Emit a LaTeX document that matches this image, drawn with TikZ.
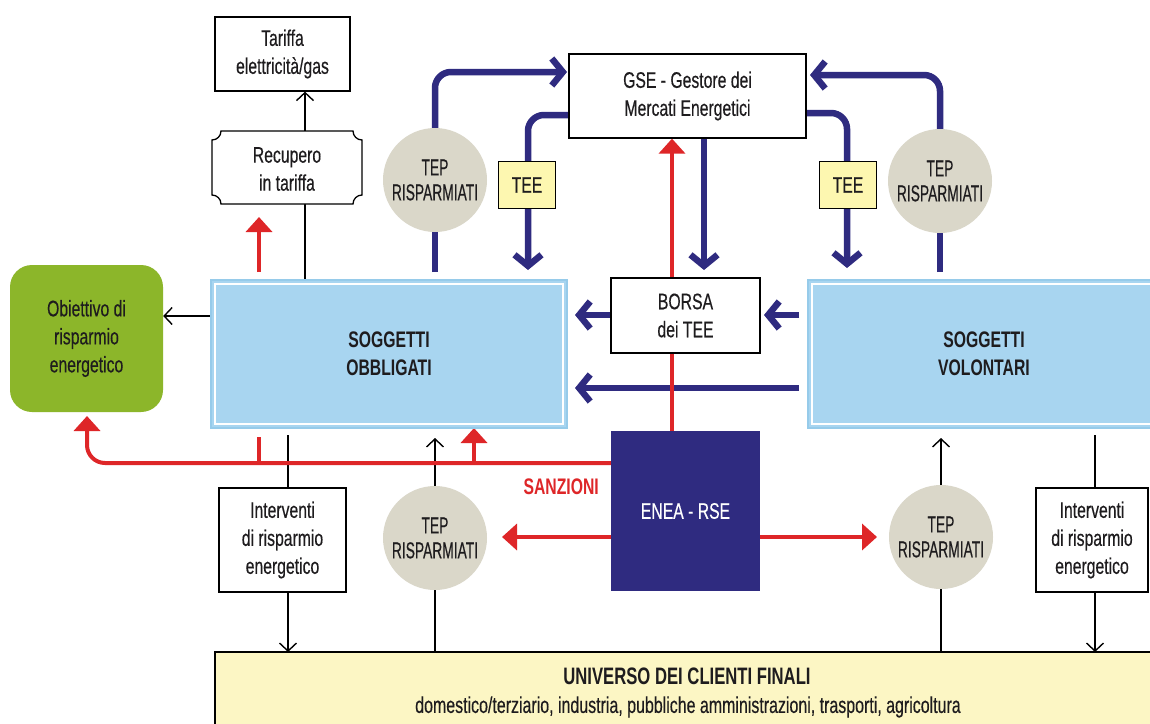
\documentclass[tikz,border=0pt]{standalone}
\usepackage{fontspec}
\setmainfont{Liberation Sans}[FakeStretch=0.70, UprightFeatures={FakeBold=0.35}]
\newfontfamily\tepfont{Liberation Sans}[FakeStretch=0.60, FakeBold=0.35]
\usetikzlibrary{arrows.meta,calc}
\definecolor{navy}{RGB}{47,43,128}
\definecolor{redc}{RGB}{222,38,40}
\definecolor{sky}{RGB}{168,213,240}
\definecolor{skyedge}{RGB}{150,203,234}
\definecolor{olive}{RGB}{140,182,42}
\definecolor{tepgray}{RGB}{218,215,201}
\definecolor{teeyel}{RGB}{253,247,176}
\definecolor{uniyel}{RGB}{252,246,196}
\definecolor{txtcol}{RGB}{30,28,30}
\pgfdeclarelayer{bg}
\pgfdeclarelayer{conn}
\pgfsetlayers{bg,conn,main}
\tikzset{
  txt/.style={font=\fontsize{22.5}{28}\selectfont, text=txtcol, align=center},
  wbox/.style={txt, draw=black, line width=1.3pt, fill=white, inner sep=0pt},
  sogg/.style={fill=sky, draw=skyedge, line width=2pt, inner sep=0pt, align=center,
    text=txtcol, font=\bfseries\fontsize{22.5}{28}\selectfont},
  tep/.style={circle, fill=tepgray, minimum size=104pt, inner sep=0pt, align=center,
    text=txtcol, font=\tepfont\fontsize{23}{25}\selectfont},
  tee/.style={draw=black, line width=1.3pt, fill=teeyel, minimum width=57pt, minimum height=47pt,
    inner sep=0pt, text=txtcol, font=\fontsize{22.5}{25}\selectfont},
  bl/.style={draw=navy, line width=6.5pt, rounded corners=16pt},
  bla/.style={bl, -{Straight Barb[length=11pt, width=27pt]}},
  rd/.style={draw=redc, line width=4pt, rounded corners=18pt},
  rda/.style={rd, -{Triangle[length=15pt, width=26pt]}},
  bk/.style={draw=black, line width=1.4pt},
  bka/.style={bk, -{Straight Barb[length=8pt, width=17pt]}}
}
\begin{document}
\begin{tikzpicture}[x=1pt,y=-1pt]
\useasboundingbox (0,0) rectangle (1150,723);
\clip (0,0) rectangle (1150,723);
\begin{pgfonlayer}{bg}
\fill[white] (0,0) rectangle (1150,723);
\end{pgfonlayer}

% ---------- nodes ----------
\node[wbox, minimum width=135pt, minimum height=74pt] (tar) at (282.5,54) {Tariffa\\elettricità/gas};
\node[txt, minimum width=150pt, minimum height=73pt, inner sep=0pt] (rec) at (287,167.5) {};
\draw[line width=1.3pt, fill=white] (221,131) -- (353,131) .. controls (353,136) and (357,140) .. (362,140)
  -- (362,195) .. controls (357,195) and (353,199) .. (353,204)
  -- (221,204) .. controls (221,199) and (217,195) .. (212,195)
  -- (212,140) .. controls (217,140) and (221,136) .. (221,131) -- cycle;
\node[txt] (rectext) at (287,169) {Recupero\\in tariffa};

\node[txt, fill=olive, rounded corners=22pt, minimum width=153pt, minimum height=147pt, inner sep=0pt] (obi) at (86.5,338.5) {Obiettivo di\\risparmio\\energetico};

\node[sogg, minimum width=356pt, minimum height=148pt] (obb) at (389,354) {SOGGETTI\\OBBLIGATI};
\draw[white, line width=1.6pt] ($(obb.north west)+(5,5)$) rectangle ($(obb.south east)+(-5,-5)$);
\node[sogg, minimum width=352pt, minimum height=148pt] (vol) at (984,354) {SOGGETTI\\VOLONTARI};
\draw[white, line width=1.6pt] ($(vol.north west)+(5,5)$) rectangle ($(vol.south east)+(-5,-5)$);

\node[wbox, minimum width=237pt, minimum height=84pt] (gse) at (687.5,96) {GSE - Gestore dei\\Mercati Energetici};
\node[wbox, minimum width=149pt, minimum height=75pt] (borsa) at (685.5,315.5) {BORSA\\dei TEE};
\node[fill=navy, minimum width=149pt, minimum height=160pt, inner sep=0pt, text=white,
  font=\fontsize{22.5}{25}\selectfont] (enea) at (685.5,511) {ENEA - RSE};

\node[tep] (tepTL) at (435,180) {TEP\\RISPARMIATI};
\node[tep] (tepTR) at (940,181) {TEP\\RISPARMIATI};
\node[tep] (tepBL) at (435,538) {TEP\\RISPARMIATI};
\node[tep] (tepBR) at (941,537) {TEP\\RISPARMIATI};

\node[tee] (teeL) at (527,185) {TEE};
\node[tee] (teeR) at (848,185) {TEE};

\node[wbox, minimum width=127pt, minimum height=104pt] (intL) at (282.5,540) {Interventi\\di risparmio\\energetico};
\node[wbox, minimum width=112pt, minimum height=104pt] (intR) at (1092,540) {Interventi\\di risparmio\\energetico};

\node[fill=uniyel, anchor=north west, minimum width=945pt, minimum height=90pt, inner sep=0pt] (uni) at (215,652) {};
\draw[line width=1.4pt] (uni.south west) -- (uni.north west) -- (uni.north east);
\node[txt, font=\bfseries\fontsize{23.8}{26}\selectfont] (unit) at (687,676) {UNIVERSO DEI CLIENTI FINALI};
\node[txt, font=\fontsize{22.8}{24}\selectfont] (unis) at (688,707) {domestico/terziario, industria, pubbliche amministrazioni, trasporti, agricoltura};

\node[font=\bfseries\fontsize{22.5}{25}\selectfont, text=redc, anchor=east, inner sep=0pt] (sanz) at (599,487) {SANZIONI};

% ---------- connectors ----------
\begin{pgfonlayer}{conn}
% black
\draw[bka] (rec.north -| 305,0) -- (tar.south -| 305,0);
\draw[bk] (obb.north -| 305,0) -- (rec.south -| 305,0);
\draw[bka] (obb.west |- 0,316) -- (obi.east |- 0,316);
\draw[bk] (288,435) -- (intL.north -| 288,0);
\draw[bka] (intL.south -| 288,0) -- (uni.north -| 288,0);
\draw[bka] (tepBL.north) -- (435,438);
\draw[bk] (tepBL.south) -- (uni.north -| tepBL.south);
\draw[bka] (tepBR.north) -- (941,438);
\draw[bk] (tepBR.south) -- (uni.north -| tepBR.south);
\draw[bk] (1095,435) -- (intR.north -| 1095,0);
\draw[bka] (intR.south -| 1095,0) -- (uni.north -| 1095,0);
% blue
\draw[bl] (435,272) -- (tepTL.south);
\draw[bla] (tepTL.north) -- (435,72) -- (567,72);
\draw[bla] (gse.west |- 0,115) -- (528,115) -- (528,270);
\draw[bla] (gse.south -| 704,0) -- (704,270);
\draw[bla] (tepTR.north) -- (940,75) -- (810,75);
\draw[bl] (940,272) -- (tepTR.south);
\draw[bla] (gse.east |- 0,113) -- (847,113) -- (847,268);
\draw[bla] (borsa.west |- 0,315) -- (575,315);
\draw[bla] (799,315) -- (764,315);
\draw[bla] (799,388) -- (575,388);
% red
\draw[rda] (enea.north -| 672,0) -- (gse.south -| 672,0);
\draw[rda] (enea.west |- 0,463) -- (87,463) -- (87,416);
\draw[rd] (259,463) -- (259,437);
\draw[rda] (259,272) -- (259,217);
\draw[rda] (474,463) -- (474,428);
\draw[rda] (enea.west |- 0,537) -- (502,537);
\draw[rda] (enea.east |- 0,537) -- (877,537);
\end{pgfonlayer}
\end{tikzpicture}
\end{document}
